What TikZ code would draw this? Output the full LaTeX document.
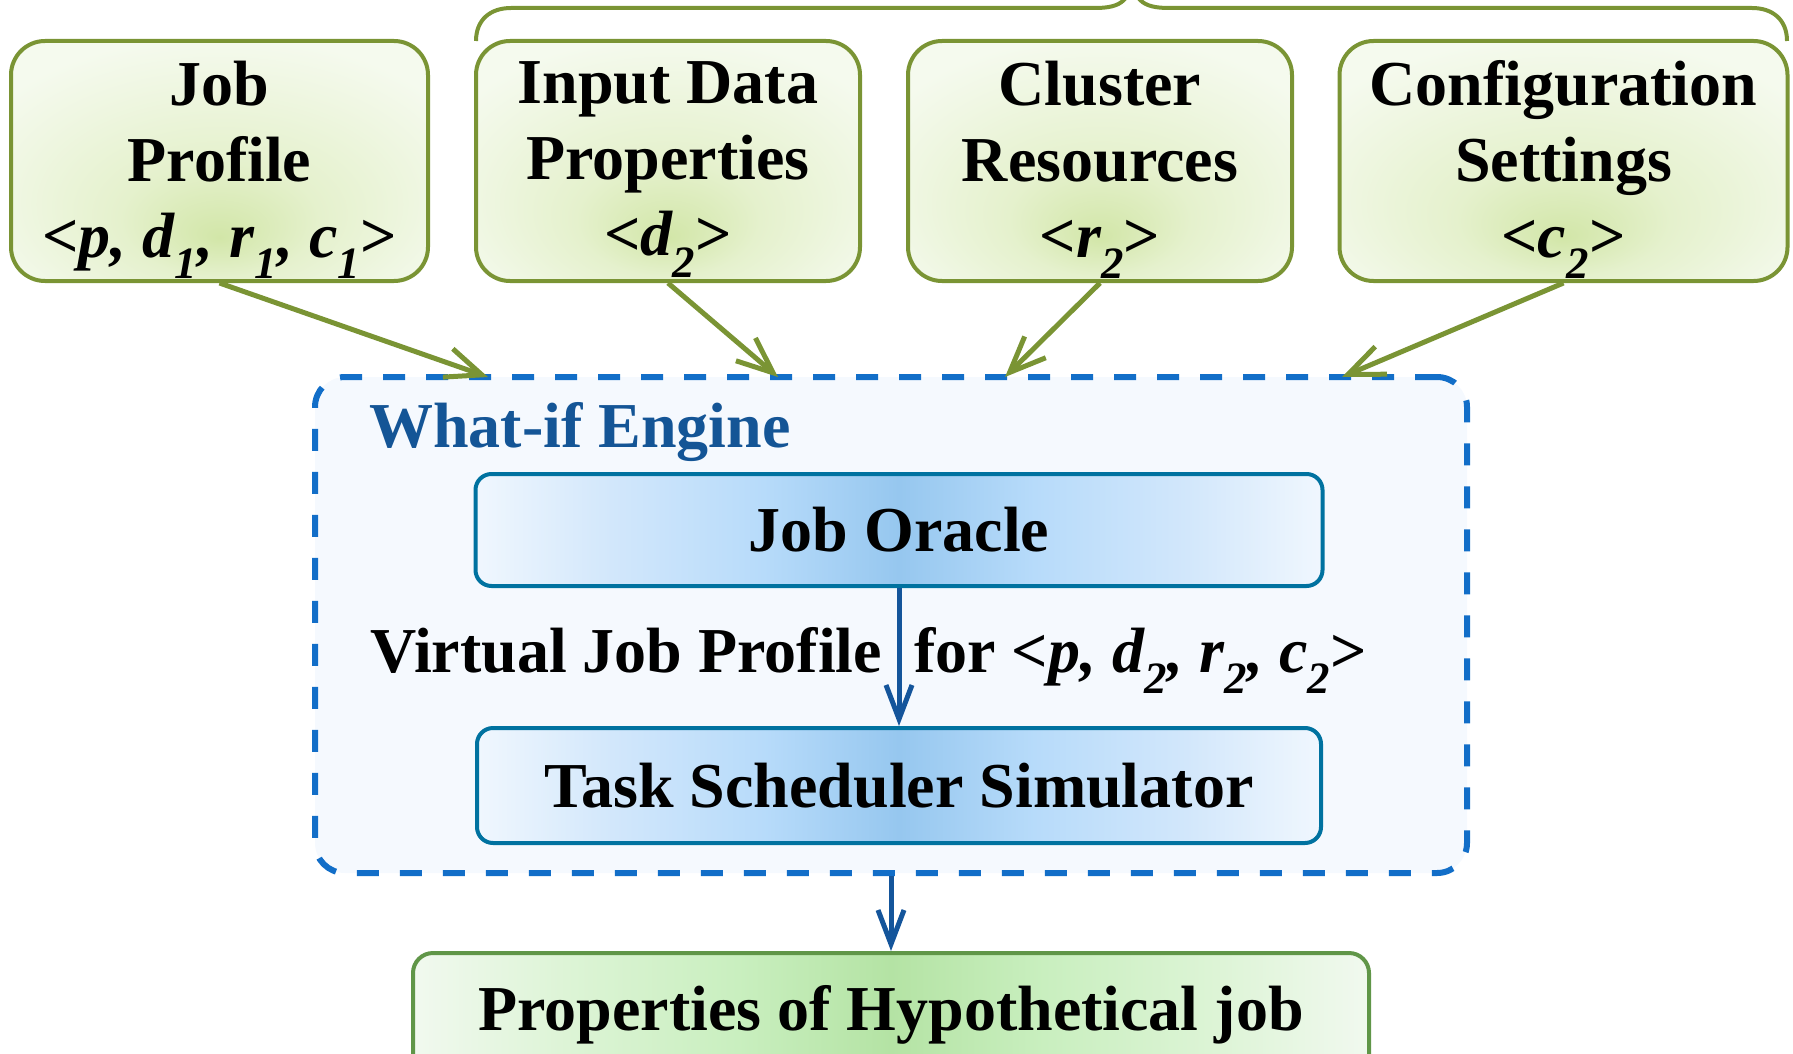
\documentclass[tikz,border=0pt]{standalone}
\usepackage{fontspec}
\setmainfont{Liberation Serif}
\usetikzlibrary{arrows.meta}

% palette
\definecolor{gBorder}{RGB}{122,148,52}
\definecolor{gEdge}{RGB}{245,250,238}
\definecolor{gMid}{RGB}{229,241,205}
\definecolor{gCore}{RGB}{210,230,168}
\definecolor{bBorder}{RGB}{0,114,160}
\definecolor{bEdge}{RGB}{240,247,254}
\definecolor{bLight}{RGB}{210,231,251}
\definecolor{bMid}{RGB}{183,219,250}
\definecolor{bCore}{RGB}{150,199,239}
\definecolor{pBorder}{RGB}{96,150,72}
\definecolor{pEdge}{RGB}{241,249,239}
\definecolor{pLight}{RGB}{221,244,214}
\definecolor{pMid}{RGB}{201,239,191}
\definecolor{pCore}{RGB}{180,227,164}
\definecolor{engBorder}{RGB}{18,110,200}
\definecolor{engFill}{RGB}{245,249,254}
\definecolor{engText}{RGB}{20,85,150}
\definecolor{flowBlue}{RGB}{20,85,155}

% shadings
\pgfdeclareradialshading{inputglow}{\pgfpoint{0bp}{-16bp}}{color(0bp)=(gCore); color(12bp)=(gMid); color(32bp)=(gEdge); color(50bp)=(gEdge)}
\pgfdeclarehorizontalshading{stagebar}{100bp}{color(0bp)=(bEdge); color(25bp)=(bEdge); color(33bp)=(bLight); color(42bp)=(bMid); color(50bp)=(bCore); color(58bp)=(bMid); color(67bp)=(bLight); color(75bp)=(bEdge); color(100bp)=(bEdge)}
\pgfdeclarehorizontalshading{resultbar}{100bp}{color(0bp)=(pEdge); color(25bp)=(pEdge); color(33bp)=(pLight); color(42bp)=(pMid); color(50bp)=(pCore); color(58bp)=(pMid); color(67bp)=(pLight); color(75bp)=(pEdge); color(100bp)=(pEdge)}

\newcommand\diagfont{\fontsize{64}{76}\selectfont\bfseries}

\begin{document}
\begin{tikzpicture}[x=1pt,y=-1pt,
  inbox/.style={draw=gBorder, line width=4pt, rounded corners=34pt, shading=inputglow,
    minimum height=240pt, align=center, font=\diagfont, inner sep=0pt, text depth=4pt},
  brace/.style={draw=gBorder, line width=4pt},
  engine/.style={draw=engBorder, fill=engFill, line width=6pt, rounded corners=30pt,
    dash pattern=on 22pt off 21pt},
  enginetitle/.style={text=engText, font=\diagfont, inner sep=0pt},
  plain/.style={font=\diagfont, inner sep=0pt},
  stage/.style={draw=bBorder, line width=4pt, rounded corners=16pt, shading=stagebar,
    font=\diagfont, inner sep=0pt},
  result/.style={draw=pBorder, line width=4pt, rounded corners=20pt, shading=resultbar,
    font=\diagfont, inner sep=0pt},
  feed/.style={draw=gBorder, line width=5pt, -{Straight Barb[length=36pt,width=30pt,line width=5pt]}},
  flow/.style={draw=flowBlue, line width=5pt, -{Straight Barb[length=34pt,width=26pt,line width=5pt]}}
]
\useasboundingbox (0,0) rectangle (1793,1054);
\clip (0,0) rectangle (1793,1054);

% input boxes
\node[inbox, minimum width=417pt] (jp) at (219.5,161)
  {Job\\Profile\\<\textit{p, d\textsubscript{1}, r\textsubscript{1}, c\textsubscript{1}}>};
\node[inbox, minimum width=384pt] (idp) at (668,161)
  {Input Data\\Properties\\<\textit{d\textsubscript{2}}>};
\node[inbox, minimum width=384pt] (cr) at (1100,161)
  {Cluster\\Resources\\<\textit{r\textsubscript{2}}>};
\node[inbox, minimum width=448pt] (cs) at (1563.5,161)
  {Configuration\\Settings\\<\textit{c\textsubscript{2}}>};

% brace over the three varied inputs
\draw[brace] (476,41) .. controls (476,20) and (490,8) .. (511,8) -- (1095,8)
  .. controls (1122,8) and (1132,0) .. (1132,-30)
  .. controls (1132,0) and (1142,8) .. (1169,8) -- (1752,8)
  .. controls (1773,8) and (1787,20) .. (1787,41);

% what-if engine
\node[engine, minimum width=1152pt, minimum height=496pt] (eng) at (891,625) {};
\node[enginetitle, anchor=base west] (engt) at (369,447) {What-if Engine};
\node[stage, minimum width=847pt, minimum height=112pt] (oracle) at (899,530) {Job Oracle};
\node[plain, anchor=base west] (vjp) at (370,672)
  {Virtual Job Profile\hspace{0.5em}for <\textit{p, d\textsubscript{2}, r\textsubscript{2}, c\textsubscript{2}}>};
\node[stage, minimum width=844pt, minimum height=115pt] (sched) at (899,785.5) {Task Scheduler Simulator};

% output
\node[result, minimum width=956pt, minimum height=123pt] (props) at (891,1014.5) {Properties of Hypothetical job};

% inputs into the engine
\coordinate (t1) at (488,377);
\coordinate (t2) at (778,377);
\coordinate (t3) at (1005,377);
\coordinate (t4) at (1342,377);
\draw[feed] (jp.south) -- (t1);
\draw[feed] (idp.south) -- (t2);
\draw[feed] (cr.south) -- (t3);
\draw[feed] (cs.south) -- (t4);

% internal and output flow
\draw[flow] (oracle.south) -- (sched.north);
\draw[flow] (eng.south) -- (props.north);
\end{tikzpicture}
\end{document}
